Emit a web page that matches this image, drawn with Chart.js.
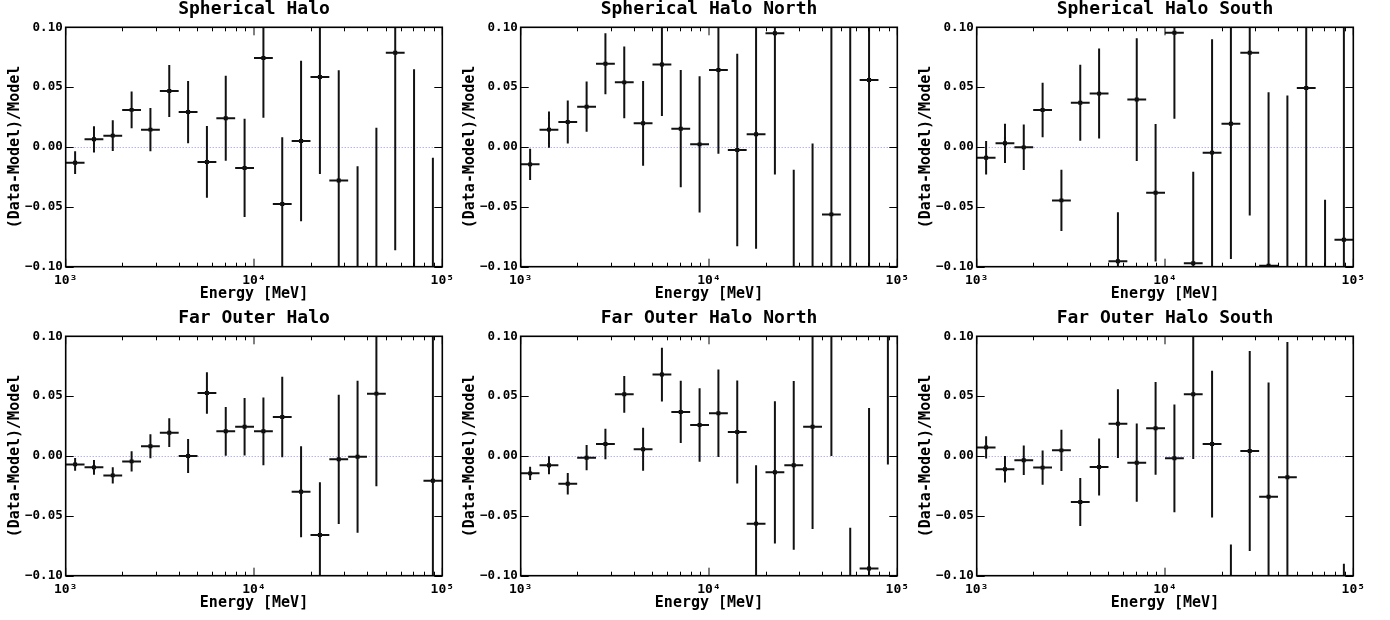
<!DOCTYPE html>
<html>
<head>
<meta charset="utf-8">
<title>Residuals</title>
<script src="https://cdn.jsdelivr.net/npm/chart.js@4.4.1/dist/chart.umd.min.js"></script>
<style>
  html, body { margin: 0; padding: 0; background: #fff; }
  #wrap { position: relative; width: 1390px; height: 620px; overflow: hidden; }
  #wrap canvas { position: absolute; }
</style>
</head>
<body>
<div id="wrap"></div>
<script>
'use strict';

// energy bins [MeV], 10 per decade
const ENERGY_EDGES = [1000, 1259, 1585, 1995, 2512, 3162, 3981, 5012, 6310, 7943,
  10000, 12589, 15849, 19953, 25119, 31623, 39811, 50119, 63096, 79433, 100000];
const ENERGY_CENTERS = [1122, 1413, 1778, 2239, 2818, 3548, 4467, 5623, 7079, 8913,
  11220, 14125, 17783, 22387, 28184, 35481, 44668, 56234, 70795, 89125];

const X_TICKS = [1e3, 1e4, 1e5];
const Y_TICKS = [-0.1, -0.05, 0, 0.05, 0.1];

const PANEL_TITLES = ['Spherical Halo', 'Spherical Halo North', 'Spherical Halo South',
  'Far Outer Halo', 'Far Outer Halo North', 'Far Outer Halo South'];

// (data-model)/model residuals and their 1 sigma errors, null = not plotted
const SH_VAL = [-0.0131, 0.0064, 0.0095, 0.031, 0.0145, 0.0468, 0.0292, -0.0125, 0.024, -0.0175,
  0.0744, -0.0476, 0.005, 0.0585, -0.0279, -0.126, -0.114, 0.0788, -0.135, -0.249];
const SH_ERR = [0.0095, 0.011, 0.0128, 0.0153, 0.018, 0.0217, 0.026, 0.030, 0.0355, 0.041,
  0.050, 0.0557, 0.067, 0.081, 0.092, 0.110, 0.130, 0.165, 0.200, 0.240];

const SHN_VAL = [-0.0145, 0.0145, 0.0209, 0.0337, 0.0696, 0.054, 0.0198, 0.069, 0.0153, 0.0022,
  0.0643, -0.0025, 0.0106, 0.095, -0.159, -0.167, -0.0563, -0.15, 0.056, null];
const SHN_ERR = [0.013, 0.0152, 0.018, 0.021, 0.0255, 0.030, 0.0354, 0.043, 0.049, 0.057,
  0.070, 0.0805, 0.0956, 0.118, 0.140, 0.170, 0.200, 0.300, 0.300, null];

const SHS_VAL = [-0.0089, 0.0031, -0.0003, 0.0309, -0.0446, 0.037, 0.0446, -0.0955, 0.0396, -0.0382,
  0.0955, -0.0972, -0.0047, 0.0195, 0.0788, -0.0992, -0.127, 0.0493, -0.294, -0.0774];
const SHS_ERR = [0.014, 0.0164, 0.019, 0.0227, 0.0255, 0.0318, 0.0376, 0.041, 0.0512, 0.0575,
  0.072, 0.0766, 0.0947, 0.113, 0.136, 0.145, 0.170, 0.200, 0.250, 0.300];

const FOH_VAL = [-0.007, -0.0095, -0.0162, -0.0045, 0.0081, 0.0195, 0.0, 0.0526, 0.0206, 0.0245,
  0.0206, 0.0326, -0.0298, -0.066, -0.0028, -0.0006, 0.0521, null, null, -0.0206];
const FOH_ERR = [0.0054, 0.0061, 0.0068, 0.0085, 0.010, 0.012, 0.0143, 0.0174, 0.0203, 0.024,
  0.0283, 0.0336, 0.038, 0.044, 0.054, 0.0635, 0.0774, null, null, 0.150];

const FOHN_VAL = [-0.0145, -0.0078, -0.0231, -0.0014, 0.010, 0.0515, 0.0056, 0.068, 0.0368, 0.0259,
  0.0357, 0.020, -0.0565, -0.0136, -0.0078, 0.0245, 0.105, -0.190, -0.0939, 0.193];
const FOHN_ERR = [0.0056, 0.0075, 0.009, 0.0106, 0.0127, 0.0153, 0.018, 0.0224, 0.026, 0.0308,
  0.0366, 0.043, 0.0487, 0.0594, 0.0705, 0.0855, 0.105, 0.130, 0.134, 0.200];

const FOHS_VAL = [0.0072, -0.0111, -0.0036, -0.0097, 0.0047, -0.0384, -0.0092, 0.027, -0.0056, 0.0231,
  -0.0019, 0.0515, 0.010, -0.149, 0.0042, -0.034, -0.0178, null, null, -0.29];
const FOHS_ERR = [0.0092, 0.011, 0.0123, 0.0143, 0.0172, 0.020, 0.0238, 0.0287, 0.0327, 0.0387,
  0.045, 0.054, 0.0613, 0.075, 0.0836, 0.0953, 0.113, null, null, 0.200];

const PANEL_VALUES = [SH_VAL, SHN_VAL, SHS_VAL, FOH_VAL, FOHN_VAL, FOHS_VAL];
const PANEL_ERRORS = [SH_ERR, SHN_ERR, SHS_ERR, FOH_ERR, FOHN_ERR, FOHS_ERR];

// page layout
const CANVAS_W = 455, CANVAS_H = 310;
const COL_LEFT = [0, 455, 911];
const ROW_TOP = [0, 309];
const FONT = '"DejaVu Sans Mono", "Liberation Mono", monospace';
const SUP = {3: '\u00B3', 4: '\u2074', 5: '\u2075'};

// frame, inward ticks and the dotted zero line (matplotlib look)
const frameTicks = {
    id: 'frameTicks',
    beforeDatasetsDraw(chart) {
        const {ctx, chartArea: a, scales: {y}} = chart;
        const y0 = Math.round(y.getPixelForValue(0)) + 0.5;
        ctx.save();
        ctx.strokeStyle = 'rgba(70,70,255,0.75)';
        ctx.lineWidth = 0.8;
        ctx.setLineDash([1, 2]);
        ctx.beginPath();
        ctx.moveTo(a.left, y0);
        ctx.lineTo(a.right, y0);
        ctx.stroke();
        ctx.restore();
    },
    afterDraw(chart) {
        const {ctx, chartArea: a, scales: {x, y}} = chart;
        ctx.save();
        ctx.strokeStyle = '#000';
        ctx.lineWidth = 1;
        ctx.beginPath();
        // x: major + minor on bottom and top
        for (let d = 0; d < X_TICKS.length; d++) {
            const dec = X_TICKS[d];
            const px = x.getPixelForValue(dec);
            ctx.moveTo(px, a.bottom); ctx.lineTo(px, a.bottom - 8);
            ctx.moveTo(px, a.top); ctx.lineTo(px, a.top + 8);
            if (d === X_TICKS.length - 1) break;
            for (let k = 2; k <= 9; k++) {
                const mx = Math.round(x.getPixelForValue(k * dec)) + 0.5;
                ctx.moveTo(mx, a.bottom); ctx.lineTo(mx, a.bottom - 4);
                ctx.moveTo(mx, a.top); ctx.lineTo(mx, a.top + 4);
            }
        }
        // y: major on left and right
        Y_TICKS.forEach(v => {
            const py = Math.round(y.getPixelForValue(v)) + 0.5;
            ctx.moveTo(a.left, py); ctx.lineTo(a.left + 8, py);
            ctx.moveTo(a.right, py); ctx.lineTo(a.right - 8, py);
        });
        ctx.stroke();
        ctx.lineWidth = 1.6;
        ctx.strokeRect(a.left, a.top, a.right - a.left, a.bottom - a.top);
        ctx.restore();
    }
};

function buildDatasets(vals, errs) {
    const xbars = [], ybars = [], pts = [];
    const gap = {x: null, y: null};
    vals.forEach((v, i) => {
        if (v === null) return;
        const e = errs[i];
        xbars.push({x: ENERGY_EDGES[i], y: v}, {x: ENERGY_EDGES[i + 1], y: v}, gap);
        ybars.push({x: ENERGY_CENTERS[i], y: v - e}, {x: ENERGY_CENTERS[i], y: v + e}, gap);
        pts.push({x: ENERGY_CENTERS[i], y: v});
    });
    const bar = {
        showLine: true,
        spanGaps: false,
        borderColor: '#111',
        borderWidth: 2,
        borderCapStyle: 'butt',
        pointRadius: 0,
        pointHoverRadius: 0
    };
    return [
        Object.assign({data: xbars}, bar),
        Object.assign({data: ybars}, bar),
        {data: pts, pointStyle: 'rect', pointRadius: 2.8, backgroundColor: '#000', borderWidth: 0}
    ];
}

function renderPanel(idx) {
    const canvas = document.createElement('canvas');
    canvas.width = CANVAS_W;
    canvas.height = CANVAS_H;
    canvas.style.left = COL_LEFT[idx % 3] + 'px';
    canvas.style.top = ROW_TOP[Math.floor(idx / 3)] + 'px';
    document.getElementById('wrap').appendChild(canvas);

    return new Chart(canvas.getContext('2d'), {
        type: 'scatter',
        data: {datasets: buildDatasets(PANEL_VALUES[idx], PANEL_ERRORS[idx])},
        plugins: [frameTicks],
        options: {
            responsive: false,
            animation: false,
            devicePixelRatio: 1,
            events: [],
            layout: {padding: {left: 0, right: 12.7, top: 0, bottom: 0}},
            plugins: {
                legend: {display: false},
                tooltip: {enabled: false},
                title: {
                    display: true,
                    text: PANEL_TITLES[idx],
                    fullSize: false,
                    color: '#000',
                    font: {family: FONT, size: 18, weight: 'bold', lineHeight: 1},
                    padding: {top: 0.8, bottom: 8.5}
                }
            },
            scales: {
                x: {
                    type: 'logarithmic',
                    min: 1000,
                    max: 100000,
                    grid: {display: false, drawTicks: false},
                    border: {display: false},
                    afterBuildTicks: s => { s.ticks = X_TICKS.map(v => ({value: v})); },
                    afterFit: s => { s.height = 43.3; s.paddingLeft = 0; s.paddingRight = 0; },
                    ticks: {
                        autoSkip: false,
                        maxRotation: 0,
                        padding: 6,
                        color: '#000',
                        font: {family: FONT, size: 13, weight: 'bold'},
                        callback: v => '10' + SUP[Math.round(Math.log10(v))]
                    },
                    title: {
                        display: true,
                        text: 'Energy [MeV]',
                        color: '#000',
                        font: {family: FONT, size: 15, weight: 'bold'},
                        padding: {top: 0, bottom: 7}
                    }
                },
                y: {
                    min: -0.1,
                    max: 0.1,
                    grid: {display: false, drawTicks: false},
                    border: {display: false},
                    afterBuildTicks: s => { s.ticks = Y_TICKS.map(v => ({value: v})); },
                    afterFit: s => { s.width = 65.7; },
                    ticks: {
                        padding: 3,
                        color: '#000',
                        font: {family: FONT, size: 12.5, weight: 'bold'},
                        callback: v => v.toFixed(2).replace('-', '\u2212')
                    },
                    title: {
                        display: true,
                        text: '(Data-Model)/Model',
                        color: '#000',
                        font: {family: FONT, size: 15, weight: 'bold'},
                        padding: {top: 6, bottom: 0}
                    }
                }
            }
        }
    });
}

for (let i = 0; i < PANEL_TITLES.length; i++) {
    renderPanel(i);
}
</script>
</body>
</html>
